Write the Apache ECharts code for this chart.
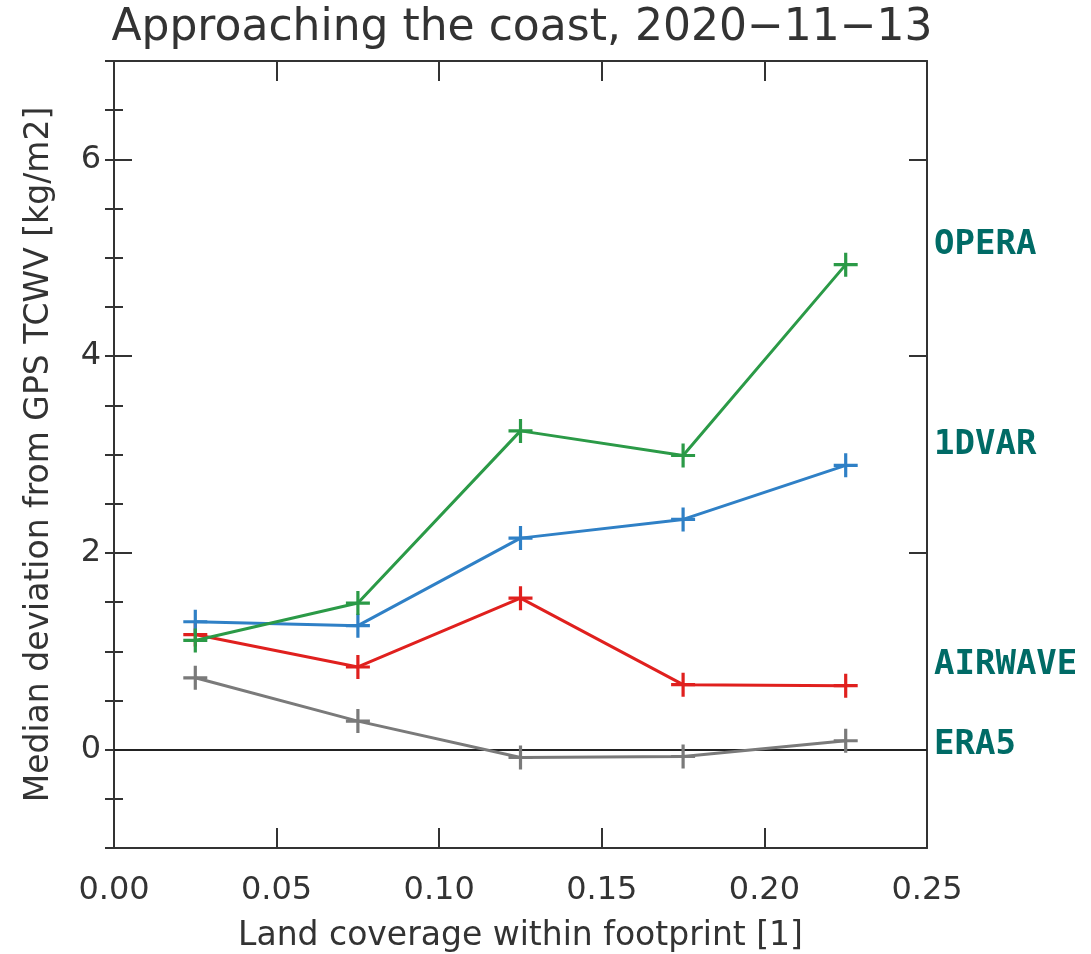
<!DOCTYPE html>
<html>
<head>
<meta charset="utf-8">
<script src="https://cdn.jsdelivr.net/npm/echarts@6/dist/echarts.min.js"></script>
<style>html,body{margin:0;padding:0;background:#fff;}#c{width:1091px;height:954px;}</style>
</head>
<body>
<div id="c"></div>
<script>
const xValues = [0.025, 0.075, 0.125, 0.175, 0.225];
const opera   = [1.11, 1.49, 3.24, 2.99, 4.93];
const onedvar = [1.30, 1.26, 2.15, 2.34, 2.89];
const airwave = [1.17, 0.84, 1.54, 0.66, 0.65];
const era5    = [0.73, 0.29, -0.08, -0.07, 0.09];
const seriesNames = ['OPERA', '1DVAR', 'AIRWAVE', 'ERA5'];
const seriesColors = ['#2b9a47', '#2f80c6', '#e0201e', '#7a7a7a'];
const yMajorTicks = [0, 2, 4, 6];
const titleText = 'Approaching the coast, 2020\u221211\u221213';
const xTitle = 'Land coverage within footprint [1]';
const yTitle = 'Median deviation from GPS TCWV [kg/m2]';

const plus = 'path://M-1.6,-12 L1.6,-12 L1.6,-1.6 L12,-1.6 L12,1.6 L1.6,1.6 L1.6,12 L-1.6,12 L-1.6,1.6 L-12,1.6 L-12,-1.6 L-1.6,-1.6 Z';
const fontFam = '"DejaVu Sans", sans-serif';
const axisCol = '#333';
const txtCol = '#333';

const allVals = [opera, onedvar, airwave, era5];
const series = allVals.map((vals, i) => ({
  name: seriesNames[i],
  type: 'line',
  data: xValues.map((x, j) => [x, vals[j]]),
  symbol: plus,
  symbolSize: 24,
  showAllSymbol: true,
  lineStyle: {color: seriesColors[i], width: 3},
  itemStyle: {color: seriesColors[i]},
  z: 10 - i,
  animation: false
}));
series.push({
  type: 'line', data: [], silent: true, animation: false,
  markLine: {silent: true, symbol: 'none', label: {show: false},
    lineStyle: {color: '#222', width: 2, type: 'solid'},
    data: [{yAxis: 0}]}
});

const common = {min: 0, max: 0.25, interval: 0.05, type: 'value'};
const yBase = {type: 'value', min: -1, max: 7, splitLine: {show: false}};
const lineOn = {show: true, onZero: false, lineStyle: {color: axisCol, width: 2}};

const chart = echarts.init(document.getElementById('c'), null, {renderer: 'canvas'});
chart.setOption({
  backgroundColor: '#fff',
  animation: false,
  title: {text: titleText, left: 517, textAlign: 'center', top: 2,
    textStyle: {fontFamily: fontFam, fontSize: 44, fontWeight: 'normal', color: txtCol}},
  grid: {left: 114, right: 164, top: 61, bottom: 106, containLabel: false, outerBoundsMode: 'none'},
  xAxis: [
    Object.assign({}, common, {position: 'bottom',
      name: xTitle, nameLocation: 'middle', nameGap: 72,
      nameTextStyle: {fontFamily: fontFam, fontSize: 33, color: txtCol},
      axisLine: lineOn,
      axisTick: {show: true, inside: true, length: 20, lineStyle: {color: axisCol, width: 2}},
      axisLabel: {fontFamily: fontFam, fontSize: 32, color: txtCol, margin: 27,
        formatter: v => v.toFixed(2)},
      splitLine: {show: false}}),
    Object.assign({}, common, {position: 'top',
      axisLine: lineOn,
      axisTick: {show: true, inside: true, length: 20, lineStyle: {color: axisCol, width: 2}},
      axisLabel: {show: false}, splitLine: {show: false}})
  ],
  yAxis: [
    Object.assign({}, yBase, {position: 'left', interval: 1,
      name: yTitle, nameLocation: 'middle', nameGap: 58,
      nameTextStyle: {fontFamily: fontFam, fontSize: 33, color: txtCol},
      axisLine: lineOn,
      axisTick: {show: true, inside: true, length: 18, customValues: yMajorTicks, lineStyle: {color: axisCol, width: 2}},
      axisLabel: {fontFamily: fontFam, fontSize: 32, color: txtCol, margin: 13, customValues: yMajorTicks}}),
    Object.assign({}, yBase, {position: 'left', interval: 0.5,
      axisLine: {show: false},
      axisTick: {show: true, inside: true, length: 9, lineStyle: {color: axisCol, width: 2}},
      axisLabel: {show: false}}),
    Object.assign({}, yBase, {position: 'right', interval: 1,
      axisLine: lineOn,
      axisTick: {show: true, inside: true, length: 18, customValues: yMajorTicks, lineStyle: {color: axisCol, width: 2}},
      axisLabel: {show: false}}),
    Object.assign({}, yBase, {position: 'right', interval: 0.5,
      axisLine: {show: false},
      axisTick: {show: true, inside: true, length: 9, lineStyle: {color: axisCol, width: 2}},
      axisLabel: {show: false}})
  ],
  series: series,
  graphic: [
    {type: 'text', left: 934, top: 228, style: {text: seriesNames[0], fontFamily: '"DejaVu Sans Mono", monospace', fontWeight: 'bold', fontSize: 34, fill: '#006b66'}},
    {type: 'text', left: 934, top: 428, style: {text: seriesNames[1], fontFamily: '"DejaVu Sans Mono", monospace', fontWeight: 'bold', fontSize: 34, fill: '#006b66'}},
    {type: 'text', left: 934, top: 648, style: {text: seriesNames[2], fontFamily: '"DejaVu Sans Mono", monospace', fontWeight: 'bold', fontSize: 34, fill: '#006b66'}},
    {type: 'text', left: 934, top: 728, style: {text: seriesNames[3], fontFamily: '"DejaVu Sans Mono", monospace', fontWeight: 'bold', fontSize: 34, fill: '#006b66'}}
  ]
});
</script>
</body>
</html>
